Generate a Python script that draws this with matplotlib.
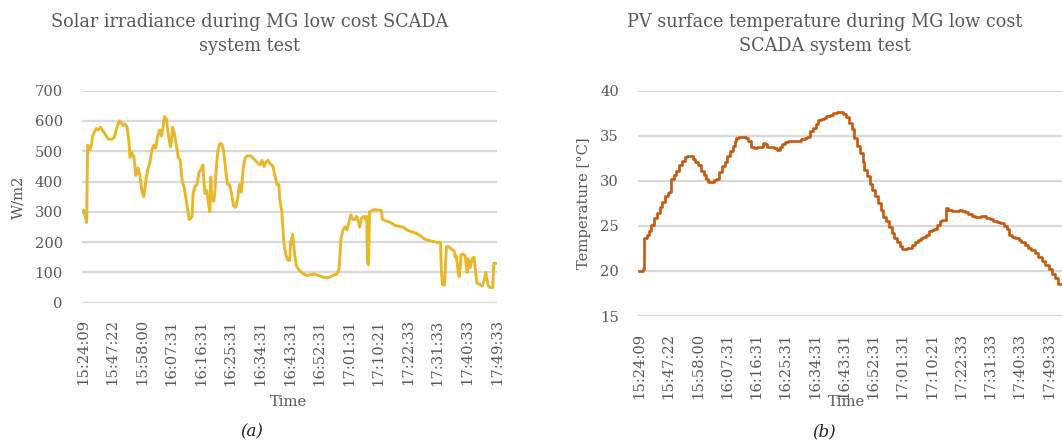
import matplotlib
matplotlib.use("Agg")
import matplotlib.pyplot as plt

# category labels shown every 30 samples
time_labels = ["15:24:09", "15:47:22", "15:58:00", "16:07:31", "16:16:31",
               "16:25:31", "16:34:31", "16:43:31", "16:52:31", "17:01:31",
               "17:10:21", "17:22:33", "17:31:33", "17:40:33", "17:49:33"]
label_step = 30

# solar irradiance (W/m2), by sample number
irr_sample = [0, 1, 3, 4, 5, 6, 7, 9, 10, 12, 14, 16, 18, 21, 24, 26, 30, 32, 34, 37,
              39, 41, 43, 45, 47, 48, 50, 52, 54, 56, 58, 60, 62, 64, 66, 68, 70, 72, 74, 76,
              78, 80, 82, 83, 85, 87, 89, 90, 91, 93, 95, 97, 99, 101, 103, 106, 108, 110, 111, 112,
              114, 116, 118, 120, 122, 123, 124, 126, 127, 129, 130, 131, 133, 134, 135, 137, 139, 141, 143, 145,
              147, 149, 151, 153, 155, 157, 159, 161, 163, 165, 167, 170, 172, 175, 178, 180, 182, 184, 186, 188,
              190, 193, 195, 197, 199, 200, 202, 204, 206, 208, 210, 211, 213, 215, 217, 220, 224, 227, 231, 235,
              239, 243, 248, 251, 254, 258, 260, 262, 264, 266, 268, 270, 272, 274, 276, 278, 280, 281, 283, 285,
              287, 288, 289, 290, 291, 294, 297, 300, 303, 304, 308, 312, 317, 321, 325, 329, 333, 339, 343, 347,
              352, 358, 363, 364, 365, 367, 369, 371, 375, 377, 378, 379, 381, 382, 384, 386, 388, 390, 391, 393,
              395, 397, 399, 400, 403, 405, 407, 409, 411, 413, 416, 417, 420]
irradiance = [300, 305, 280, 265, 520, 515, 505, 520, 550, 565, 575, 570, 580, 565, 550, 540, 540, 545, 570, 600,
              595, 585, 590, 580, 530, 480, 495, 480, 420, 445, 420, 370, 350, 400, 440, 460, 500, 520, 510, 550,
              570, 550, 590, 615, 605, 550, 515, 530, 580, 560, 520, 480, 470, 400, 380, 320, 275, 280, 285, 360,
              385, 390, 430, 440, 455, 400, 360, 370, 340, 300, 415, 340, 335, 360, 420, 500, 525, 525, 500, 440,
              390, 390, 360, 320, 315, 340, 390, 365, 450, 480, 485, 485, 480, 470, 460, 455, 470, 450, 465, 470,
              460, 450, 420, 390, 390, 340, 300, 200, 160, 140, 140, 200, 225, 160, 120, 105, 95, 90, 92, 95,
              90, 85, 82, 85, 90, 95, 110, 210, 240, 250, 240, 265, 290, 275, 275, 285, 265, 250, 280, 285,
              275, 285, 130, 125, 300, 305, 308, 305, 305, 275, 270, 265, 255, 252, 250, 240, 235, 228, 220, 210,
              205, 200, 198, 100, 60, 58, 185, 185, 175, 170, 150, 155, 100, 85, 160, 160, 155, 100, 145, 115,
              145, 150, 90, 65, 60, 55, 70, 100, 60, 50, 50, 130, 130]

# PV surface temperature (degC), by sample number
temp_sample = [0, 4, 5, 8, 10, 12, 15, 18, 21, 23, 26, 29, 31, 33, 36, 38, 41, 44, 47, 49,
               52, 55, 57, 60, 63, 66, 68, 71, 74, 77, 79, 82, 85, 88, 90, 93, 96, 98, 99, 102,
               105, 109, 112, 115, 118, 121, 125, 127, 129, 131, 135, 138, 141, 144, 146, 149, 153, 156, 159, 163,
               166, 170, 172, 175, 178, 181, 183, 186, 189, 192, 196, 199, 203, 206, 209, 212, 215, 218, 220, 223,
               226, 229, 231, 234, 237, 239, 242, 245, 248, 250, 253, 256, 259, 261, 264, 267, 270, 272, 275, 278,
               280, 283, 286, 289, 291, 294, 297, 300, 302, 305, 308, 311, 313, 315, 317, 321, 324, 328, 331, 334,
               337, 341, 344, 348, 351, 354, 356, 360, 363, 367, 370, 374, 377, 379, 382, 385, 389, 392, 396, 399,
               402, 406, 409, 413, 416, 420, 423, 426, 429, 432, 434, 437, 440]
temperature = [20.0, 20.2, 23.6, 24.0, 24.4, 25.1, 25.9, 26.4, 27.1, 27.7, 28.3, 28.7, 28.8, 30.2, 30.7, 31.1, 31.8, 32.2, 32.6, 32.8,
               32.8, 32.4, 32.1, 31.7, 31.1, 30.7, 30.2, 29.9, 29.85, 30.1, 30.2, 31.0, 31.6, 32.1, 32.7, 33.3, 33.9, 34.4, 34.8, 34.9,
               34.9, 34.8, 34.4, 33.8, 33.6, 33.7, 33.8, 34.2, 34.1, 33.8, 33.7, 33.6, 33.4, 33.7, 34.1, 34.3, 34.4, 34.4, 34.4, 34.4,
               34.6, 34.7, 34.9, 35.5, 35.9, 36.3, 36.7, 36.9, 37.0, 37.2, 37.3, 37.5, 37.6, 37.6, 37.4, 37.1, 36.4, 35.7, 34.7, 33.9,
               33.1, 32.1, 31.2, 30.5, 29.7, 29.0, 28.3, 27.5, 26.8, 26.0, 25.5, 24.9, 24.2, 23.6, 23.2, 22.8, 22.4, 22.4, 22.5, 22.6,
               22.9, 23.2, 23.4, 23.6, 23.8, 24.0, 24.4, 24.5, 24.7, 25.1, 25.5, 25.6, 25.6, 27.0, 26.8, 26.7, 26.7, 26.8, 26.7, 26.5,
               26.3, 26.1, 26.0, 26.0, 26.1, 26.1, 25.9, 25.8, 25.5, 25.4, 25.3, 25.0, 24.7, 24.0, 23.8, 23.6, 23.4, 23.2, 22.9, 22.6,
               22.3, 22.0, 21.6, 21.1, 20.7, 20.2, 19.7, 19.2, 18.6, 18.5, 18.5, 18.5, 18.4]

text_color = "#595959"
grid_color = "#d9d9d9"
plt.rcParams["font.family"] = ["DejaVu Serif"]

W, H = 1062, 444
fig = plt.figure(figsize=(W / 100, H / 100), dpi=100)


def px_axes(x0, x1, ytop, ybot):
    return fig.add_axes([x0 / W, 1 - ybot / H, (x1 - x0) / W, (ybot - ytop) / H])


def style(ax, yticks):
    for s in ax.spines.values():
        s.set_visible(False)
    ax.set_yticks(yticks)
    ax.yaxis.grid(True, color=grid_color, linewidth=1.6)
    ax.set_axisbelow(True)
    ax.tick_params(length=0, colors=text_color, labelsize=10.6)
    ax.tick_params(axis="y", pad=14)
    ax.tick_params(axis="x", pad=12)
    ticks = [i * label_step for i in range(len(time_labels))]
    ax.set_xticks(ticks)
    ax.set_xticklabels(time_labels, rotation=90)


# (a) solar irradiance
ax1 = px_axes(82.2, 497.2, 90.7, 302.7)
ax1.plot(irr_sample, irradiance, color="#e8b82a", linewidth=2.1, solid_joinstyle="round")
ax1.set_xlim(-0.5, 420.5)
ax1.set_ylim(0, 700)
style(ax1, range(0, 701, 100))
fig.text(18 / W, 1 - 197 / H, "W/m2", rotation=90, ha="center", va="center",
         color=text_color, fontsize=10.6)
fig.text(289 / W, 1 - 402 / H, "Time", ha="center", va="center", color=text_color, fontsize=10.6)
fig.text(250 / W, 1 - 34 / H, "Solar irradiance during MG low cost SCADA\nsystem test",
         ha="center", va="center", color=text_color, fontsize=12.7, linespacing=1.38)
fig.text(252 / W, 1 - 432 / H, "(a)", ha="center", va="center", style="italic",
         color="#222222", fontsize=12)

# (b) PV surface temperature
ax2 = px_axes(638.3, 1073.1, 90.7, 316.0)
ax2.plot(temp_sample, temperature, color="#c55a11", linewidth=1.9, drawstyle="steps-post")
ax2.set_xlim(-1, 445)
ax2.set_ylim(15, 40)
style(ax2, range(15, 41, 5))
fig.text(584 / W, 1 - 203 / H, "Temperature [°C]", rotation=90, ha="center", va="center",
         color=text_color, fontsize=10.6)
fig.text(846 / W, 1 - 402 / H, "Time", ha="center", va="center", color=text_color, fontsize=10.6)
fig.text(825 / W, 1 - 34 / H, "PV surface temperature during MG low cost\nSCADA system test",
         ha="center", va="center", color=text_color, fontsize=12.7, linespacing=1.38)
fig.text(824 / W, 1 - 432 / H, "(b)", ha="center", va="center", style="italic",
         color="#222222", fontsize=12)

fig.savefig("out.png", dpi=100)
